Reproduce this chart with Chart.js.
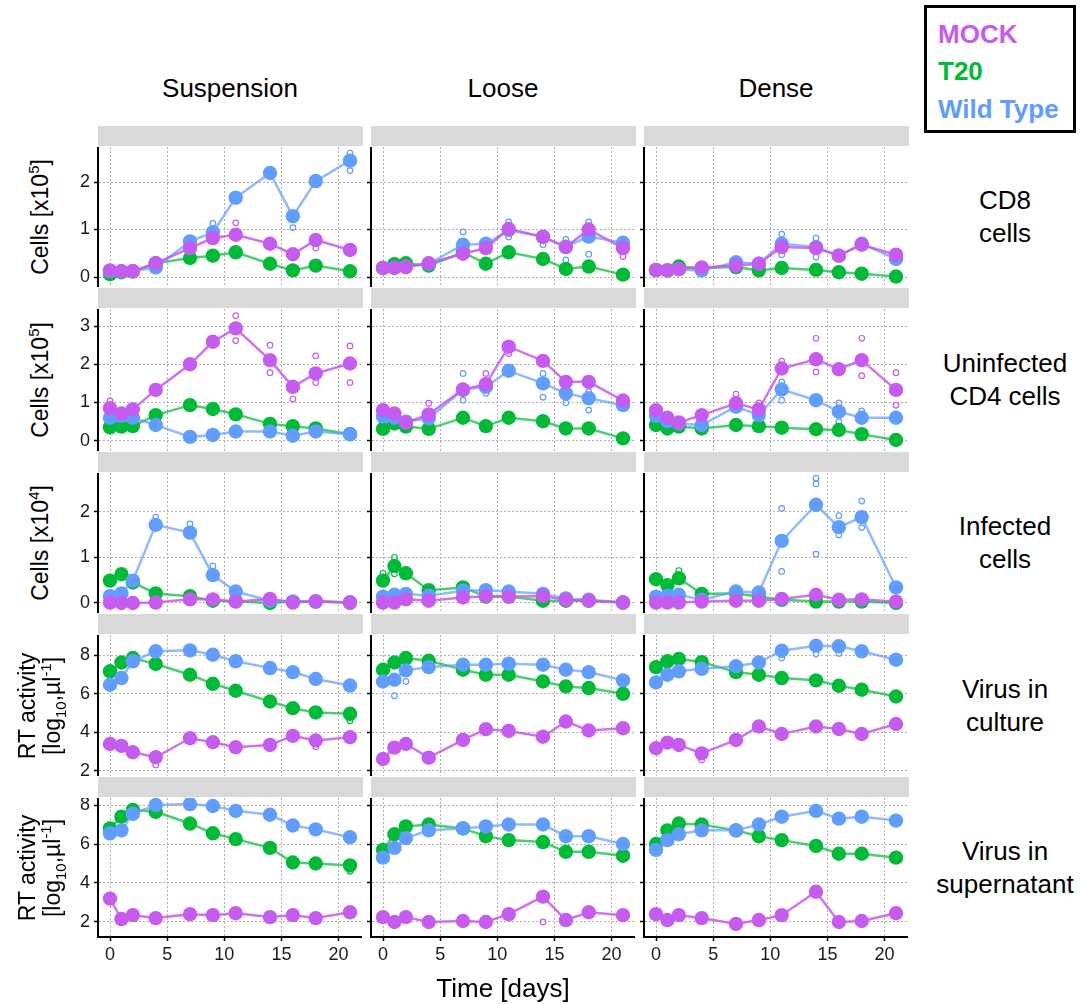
<!DOCTYPE html>
<html>
<head>
<meta charset="utf-8">
<script src="https://cdn.jsdelivr.net/npm/chart.js@4"></script>
<style>
  body { margin: 0; background: #fff; }
  #wrap { position: relative; width: 1084px; height: 1004px; font-family: 'Liberation Sans', Arial, sans-serif; color: #000; }
  #wrap canvas { position: absolute; }
  .txt { position: absolute; transform: translate(-50%, -50%); white-space: nowrap; text-align: center; }
  .strip { position: absolute; background: #d9d9d9; }
  .ytitle { position: absolute; transform: translate(-50%, -50%) rotate(-90deg); white-space: nowrap; text-align: center; font-size: 23px; line-height: 25px; }
  sup, sub { font-size: 65%; line-height: 0; }
</style>
</head>
<body>
<div id="wrap"></div>
<script>
// jours de prelevement
const days = [0, 1, 2, 4, 7, 9, 11, 14, 16, 18, 21];
const columns = ['Suspension', 'Loose', 'Dense'];
const rowLabels = ['CD8<br>cells', 'Uninfected<br>CD4 cells', 'Infected<br>cells', 'Virus in<br>culture', 'Virus in<br>supernatant'];
const xTicks = [0, 5, 10, 15, 20];

// moyennes, une ligne par colonne (Suspension, Loose, Dense)
const cd8Mock = [
  [0.14, 0.12, 0.12, 0.29, 0.61, 0.82, 0.89, 0.70, 0.48, 0.78, 0.57],
  [0.19, 0.19, 0.21, 0.29, 0.49, 0.61, 1.01, 0.85, 0.63, 1.00, 0.61],
  [0.15, 0.14, 0.17, 0.20, 0.24, 0.28, 0.63, 0.61, 0.45, 0.68, 0.47]];
const cd8T20 = [
  [0.06, 0.10, 0.12, 0.29, 0.40, 0.45, 0.52, 0.28, 0.14, 0.24, 0.12],
  [0.19, 0.27, 0.29, 0.24, 0.52, 0.28, 0.52, 0.38, 0.17, 0.22, 0.05],
  [0.15, 0.14, 0.22, 0.19, 0.21, 0.14, 0.19, 0.15, 0.10, 0.07, 0.01]];
const cd8WT = [
  [0.12, 0.12, 0.12, 0.20, 0.75, 0.94, 1.67, 2.19, 1.28, 2.02, 2.45],
  [0.19, 0.20, 0.22, 0.28, 0.68, 0.70, 0.99, 0.84, 0.64, 0.85, 0.72],
  [0.14, 0.14, 0.16, 0.14, 0.31, 0.28, 0.70, 0.63, 0.45, 0.70, 0.38]];

const cd4Mock = [
  [0.85, 0.71, 0.82, 1.33, 2.00, 2.59, 2.94, 2.11, 1.41, 1.76, 2.02],
  [0.80, 0.71, 0.47, 0.69, 1.34, 1.48, 2.46, 2.09, 1.54, 1.54, 1.05],
  [0.80, 0.60, 0.48, 0.67, 0.98, 0.82, 1.89, 2.13, 1.87, 2.11, 1.33]];
const cd4T20 = [
  [0.35, 0.37, 0.38, 0.67, 0.93, 0.83, 0.69, 0.44, 0.38, 0.32, 0.17],
  [0.31, 0.45, 0.37, 0.31, 0.60, 0.38, 0.60, 0.51, 0.32, 0.32, 0.06],
  [0.41, 0.32, 0.37, 0.32, 0.41, 0.38, 0.34, 0.30, 0.28, 0.17, 0.02]];
const cd4WT = [
  [0.60, 0.65, 0.60, 0.41, 0.10, 0.15, 0.24, 0.24, 0.13, 0.24, 0.17],
  [0.63, 0.60, 0.50, 0.58, 1.33, 1.41, 1.83, 1.50, 1.24, 1.11, 0.93],
  [0.65, 0.51, 0.45, 0.41, 0.89, 0.67, 1.34, 1.06, 0.76, 0.60, 0.60]];

const infMock = [
  [0.01, 0.00, 0.00, 0.01, 0.08, 0.08, 0.03, 0.09, 0.01, 0.04, 0.01],
  [0.01, 0.01, 0.08, 0.05, 0.12, 0.15, 0.14, 0.15, 0.07, 0.05, 0.01],
  [0.01, 0.01, 0.01, 0.03, 0.05, 0.05, 0.09, 0.18, 0.07, 0.08, 0.03]];
const infT20 = [
  [0.49, 0.63, 0.45, 0.21, 0.15, 0.05, 0.04, 0.00, 0.03, 0.03, 0.01],
  [0.49, 0.81, 0.65, 0.28, 0.34, 0.14, 0.14, 0.05, 0.05, 0.05, 0.01],
  [0.52, 0.39, 0.54, 0.20, 0.21, 0.14, 0.07, 0.03, 0.03, 0.03, 0.00]];
const infWT = [
  [0.15, 0.21, 0.49, 1.71, 1.54, 0.61, 0.25, 0.05, 0.03, 0.03, 0.01],
  [0.14, 0.18, 0.20, 0.16, 0.27, 0.28, 0.25, 0.20, 0.10, 0.07, 0.01],
  [0.14, 0.16, 0.18, 0.07, 0.25, 0.23, 1.36, 2.15, 1.66, 1.88, 0.34]];

const rtCulMock = [
  [3.39, 3.29, 2.96, 2.70, 3.69, 3.48, 3.22, 3.34, 3.81, 3.57, 3.74],
  [2.61, 3.20, 3.39, 2.68, 3.60, 4.16, 4.07, 3.77, 4.56, 4.09, 4.21],
  [3.17, 3.46, 3.34, 2.90, 3.60, 4.30, 3.91, 4.30, 4.17, 3.91, 4.43]];
const rtCulT20 = [
  [7.17, 7.63, 7.86, 7.55, 6.99, 6.52, 6.16, 5.60, 5.25, 5.03, 4.96],
  [7.25, 7.63, 7.86, 7.72, 7.25, 6.99, 6.99, 6.64, 6.38, 6.30, 6.00],
  [7.39, 7.69, 7.81, 7.65, 7.13, 6.99, 6.82, 6.70, 6.42, 6.21, 5.86]];
const rtCulWT = [
  [6.47, 6.82, 7.69, 8.21, 8.26, 8.03, 7.69, 7.34, 7.13, 6.77, 6.43],
  [6.64, 6.73, 7.22, 7.39, 7.51, 7.51, 7.57, 7.51, 7.25, 7.13, 6.70],
  [6.59, 6.99, 7.17, 7.30, 7.43, 7.63, 8.24, 8.50, 8.47, 8.21, 7.77]];

const rtSupMock = [
  [3.20, 2.15, 2.35, 2.20, 2.40, 2.35, 2.45, 2.25, 2.35, 2.20, 2.50],
  [2.25, 2.00, 2.25, 2.00, 2.05, 2.00, 2.40, 3.30, 2.10, 2.50, 2.35],
  [2.40, 2.10, 2.35, 2.20, 1.90, 2.10, 2.35, 3.55, 2.00, 2.05, 2.45]];
const rtSupT20 = [
  [6.80, 7.40, 7.75, 7.65, 7.05, 6.55, 6.25, 5.80, 5.05, 5.00, 4.90],
  [5.70, 6.50, 6.90, 7.00, 6.80, 6.40, 6.20, 6.10, 5.60, 5.60, 5.40],
  [6.00, 6.70, 7.05, 7.00, 6.70, 6.40, 6.20, 5.90, 5.50, 5.50, 5.30]];
const rtSupWT = [
  [6.55, 6.70, 7.55, 8.00, 8.05, 7.95, 7.70, 7.50, 6.95, 6.75, 6.35],
  [5.30, 5.80, 6.30, 6.70, 6.80, 6.90, 7.00, 7.00, 6.40, 6.40, 6.00],
  [5.70, 6.20, 6.50, 6.70, 6.70, 7.00, 7.40, 7.70, 7.30, 7.40, 7.20]];

// replicats visibles : [colonne, groupe, jour, valeur]
const cd8Reps = [[0,'WT',9,1.13],[0,'WT',16,1.04],[0,'WT',21,2.61],[0,'WT',21,2.24],[0,'MOCK',11,1.14],[0,'MOCK',18,0.61],
  [1,'WT',7,0.95],[1,'WT',11,1.16],[1,'WT',11,0.84],[1,'WT',14,0.68],[1,'WT',16,0.79],[1,'WT',16,0.36],[1,'WT',18,1.16],[1,'WT',18,0.48],[1,'MOCK',21,0.43],
  [2,'WT',11,0.90],[2,'WT',11,0.47],[2,'WT',14,0.82],[2,'WT',14,0.42]];
const cd4Reps = [[0,'MOCK',0,1.04],[0,'MOCK',11,3.27],[0,'MOCK',11,2.62],[0,'MOCK',14,2.50],[0,'MOCK',14,1.78],[0,'MOCK',16,1.09],[0,'MOCK',18,2.22],[0,'MOCK',18,1.52],[0,'MOCK',21,2.48],[0,'MOCK',21,1.52],
  [1,'MOCK',4,0.98],[1,'MOCK',9,1.76],[1,'MOCK',11,2.28],[1,'WT',7,1.76],[1,'WT',7,1.06],[1,'WT',9,1.24],[1,'WT',14,1.76],[1,'WT',14,1.14],[1,'WT',16,0.99],[1,'WT',18,1.28],[1,'WT',18,0.80],
  [2,'MOCK',7,1.22],[2,'MOCK',9,0.99],[2,'MOCK',11,2.08],[2,'MOCK',14,2.68],[2,'MOCK',14,1.80],[2,'MOCK',18,2.68],[2,'MOCK',18,1.70],[2,'MOCK',21,1.78],[2,'MOCK',21,0.93],
  [2,'WT',11,1.54],[2,'WT',11,1.06],[2,'WT',16,0.99],[2,'WT',16,0.50],[2,'WT',18,0.78]];
const infReps = [[0,'WT',4,1.88],[0,'WT',7,1.73],[0,'WT',9,0.81],[1,'T20',1,1.00],[1,'T20',1,0.64],[1,'T20',0,0.65],
  [2,'WT',11,2.07],[2,'WT',11,0.69],[2,'WT',14,2.73],[2,'WT',14,2.61],[2,'WT',14,1.07],[2,'WT',16,1.91],[2,'WT',16,1.49],[2,'WT',18,2.23],[2,'WT',18,1.65],[2,'T20',2,0.71]];
const rtCulReps = [[0,'MOCK',4,2.30],[0,'T20',21,4.60],[0,'MOCK',18,3.25],[1,'WT',1,5.90],[1,'WT',2,6.64],
  [2,'MOCK',2,3.45],[2,'MOCK',2,3.25],[2,'MOCK',4,2.56],[2,'WT',11,7.86],[2,'WT',14,8.07],[2,'WT',16,8.10]];
const rtSupReps = [[0,'T20',21,4.60],[1,'MOCK',14,2.00]];

const yTicksCells3 = [0, 1, 2];
const yTicksCells4 = [0, 1, 2, 3];
const yTicksRT = [2, 4, 6, 8];

const colors = { MOCK: '#c65bef', T20: '#00ba38', WT: '#619cff' };
const lineColors = { MOCK: 'rgba(198,91,239,0.85)', T20: 'rgba(0,186,56,0.7)', WT: 'rgba(97,156,255,0.7)' };

const rows = [
  { mock: cd8Mock, t20: cd8T20, wt: cd8WT, reps: cd8Reps, ticks: yTicksCells3, min: -0.21, max: 2.737, top: 147, h: 140 },
  { mock: cd4Mock, t20: cd4T20, wt: cd4WT, reps: cd4Reps, ticks: yTicksCells4, min: -0.27, max: 3.447, top: 309, h: 142 },
  { mock: infMock, t20: infT20, wt: infWT, reps: infReps, ticks: yTicksCells3, min: -0.219, max: 2.845, top: 473, h: 140 },
  { mock: rtCulMock, t20: rtCulT20, wt: rtCulWT, reps: rtCulReps, ticks: yTicksRT, min: 1.725, max: 9.059, top: 635, h: 141 },
  { mock: rtSupMock, t20: rtSupT20, wt: rtSupWT, reps: rtSupReps, ticks: yTicksRT, min: 1.23, max: 8.36, top: 798, h: 139 }
];

const colLeft = [98, 371, 644];
const PW = 264;
const AXW = 44;
const XAH = 30;
const FONT = "'Liberation Sans', Arial, sans-serif";
const wrap = document.getElementById('wrap');

function addText(html, x, y, style) {
  const d = document.createElement('div');
  d.className = 'txt';
  d.innerHTML = html;
  d.style.left = x + 'px';
  d.style.top = y + 'px';
  Object.assign(d.style, style || {});
  wrap.appendChild(d);
  return d;
}

function lineSet(label, vals) {
  return {
    label: label,
    data: days.map((d, i) => ({ x: d, y: vals[i] })),
    borderColor: lineColors[label],
    borderWidth: 2.5,
    backgroundColor: colors[label],
    pointBackgroundColor: colors[label],
    pointBorderColor: colors[label],
    pointBorderWidth: 0,
    pointRadius: 7.2,
    tension: 0,
    fill: false,
    clip: 8
  };
}

function repSet(label, reps, c) {
  return {
    type: 'scatter',
    label: label + ' rep',
    data: reps.filter(r => r[0] === c && r[1] === label).map(r => ({ x: r[2], y: r[3] })),
    pointRadius: 2.8,
    pointBorderWidth: 1.2,
    pointBorderColor: colors[label],
    pointBackgroundColor: 'rgba(255,255,255,0)',
    showLine: false,
    clip: 4
  };
}

// pas de marge automatique autour de la zone du graphe
function noPad(sc) {
  sc.paddingTop = 0; sc.paddingBottom = 0;
  sc.paddingLeft = 0; sc.paddingRight = 0;
}

rows.forEach((row, r) => {
  const bottom = r === rows.length - 1;
  columns.forEach((col, c) => {
    // bandeau gris
    const s = document.createElement('div');
    s.className = 'strip';
    s.style.left = colLeft[c] + 'px';
    s.style.top = (row.top - 21) + 'px';
    s.style.width = (PW + 1) + 'px';
    s.style.height = '20px';
    wrap.appendChild(s);

    const cv = document.createElement('canvas');
    const w = AXW + PW, h = row.h + (bottom ? XAH : 0);
    cv.width = w; cv.height = h;
    cv.style.left = (colLeft[c] - AXW) + 'px';
    cv.style.top = row.top + 'px';
    cv.style.width = w + 'px';
    cv.style.height = h + 'px';
    wrap.appendChild(cv);

    new Chart(cv, {
      type: 'line',
      data: {
        datasets: [
          lineSet('MOCK', row.mock[c]),
          lineSet('WT', row.wt[c]),
          lineSet('T20', row.t20[c]),
          repSet('MOCK', row.reps, c),
          repSet('WT', row.reps, c),
          repSet('T20', row.reps, c)
        ]
      },
      options: {
        responsive: false,
        animation: false,
        devicePixelRatio: 1,
        layout: { padding: 0, autoPadding: false },
        plugins: { legend: { display: false }, tooltip: { enabled: false } },
        scales: {
          x: {
            type: 'linear', min: -1.05, max: 22.05,
            afterBuildTicks: sc => { sc.ticks = xTicks.map(v => ({ value: v })); },
            afterFit: sc => { sc.height = bottom ? XAH : 0; noPad(sc); },
            ticks: { display: bottom, font: { size: 18, family: FONT }, color: '#1a1a1a', padding: 3, maxRotation: 0, autoSkip: false },
            grid: { color: '#b0b0b0', lineWidth: 1, drawTicks: bottom, tickLength: 4, tickColor: '#000', tickWidth: 1.5, tickBorderDash: [] },
            border: { display: bottom, color: '#000', width: 2, dash: [2, 2] }
          },
          y: {
            type: 'linear', min: row.min, max: row.max,
            afterBuildTicks: sc => { sc.ticks = row.ticks.map(v => ({ value: v })); },
            afterFit: sc => { sc.width = AXW; noPad(sc); },
            ticks: { font: { size: 18, family: FONT }, color: '#1a1a1a', padding: 4,
              callback: v => c === 0 ? String(v) : '' },
            grid: { color: '#b0b0b0', lineWidth: 1, tickLength: 4, tickColor: '#000', tickWidth: 1.5, tickBorderDash: [] },
            border: { display: true, color: '#000', width: 2, dash: [2, 2] }
          }
        }
      }
    });
  });
  // libelle de ligne a droite
  addText(rowLabels[r], 1005, row.top + row.h / 2, { fontSize: '26px', lineHeight: '33px' });
});

// titres de colonnes
columns.forEach((col, c) => addText(col, colLeft[c] + PW / 2, 88, { fontSize: '26px' }));

addText('Time [days]', 503, 988, { fontSize: '26px' });

// titres des axes y
function addYTitle(html, x, y) {
  const d = document.createElement('div');
  d.className = 'ytitle';
  d.innerHTML = html;
  d.style.left = x + 'px';
  d.style.top = y + 'px';
  wrap.appendChild(d);
}
addYTitle('Cells [x10<sup>5</sup>]', 40, rows[0].top + rows[0].h / 2);
addYTitle('Cells [x10<sup>5</sup>]', 40, rows[1].top + rows[1].h / 2);
addYTitle('Cells [x10<sup>4</sup>]', 40, rows[2].top + rows[2].h / 2);
addYTitle('RT activity<br>[log<sub>10</sub>,µl<sup>-1</sup>]', 40, rows[3].top + rows[3].h / 2);
addYTitle('RT activity<br>[log<sub>10</sub>,µl<sup>-1</sup>]', 40, rows[4].top + rows[4].h / 2);

// legende
const leg = document.createElement('div');
leg.style.cssText = 'position:absolute;left:924px;top:5px;width:146px;height:122px;border:3px solid #000;font-weight:bold;font-size:26px;';
[['MOCK', colors.MOCK, 26], ['T20', colors.T20, 63], ['Wild Type', colors.WT, 101]].forEach(([t, col, y]) => {
  const d = document.createElement('div');
  d.textContent = t;
  d.style.cssText = 'position:absolute;left:11px;top:' + (y - 15) + 'px;line-height:30px;color:' + col + ';';
  leg.appendChild(d);
});
wrap.appendChild(leg);
</script>
</body>
</html>
